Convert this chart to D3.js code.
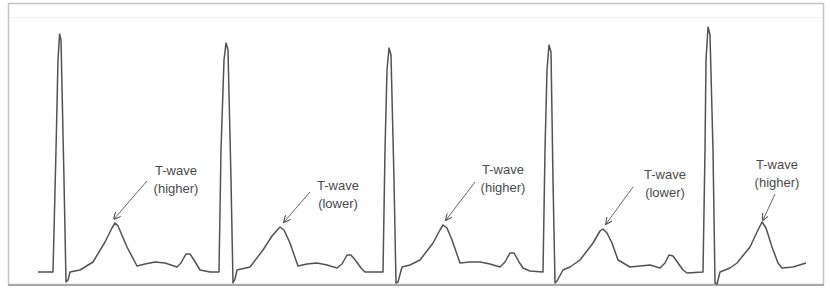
<html lang="en">
<head>
<style>
    body { margin: 0; background: #fff; }
    svg { display: block; }
    .note { font-family: Arial, "Liberation Sans", sans-serif; font-size: 13px; fill: #4a4a4a; }
</style>
</head>
<body>
</body>
<script type='text/javascript' src='https://d3js.org/d3.v7.min.js'></script>
<script>
    // ECG trace, time in ms, voltage in mV
    var ecgMs = [
        0, 75, 90, 100, 108, 115, 130, 140, 150, 160, 210, 275, 335, 370, 385, 400, 445, 495, 535, 585, 635, 695, 715, 740, 760, 780, 810, 860, 905,
        915, 930, 940, 950, 965, 975, 985, 995, 1060, 1125, 1170, 1210, 1230, 1260, 1300, 1345, 1395, 1445, 1495, 1520, 1545, 1565, 1590, 1615, 1635, 1725,
        1735, 1745, 1755, 1765, 1780, 1790, 1800, 1820, 1860, 1910, 1975, 2010, 2025, 2045, 2070, 2110, 2160, 2210, 2260, 2310, 2335, 2360, 2380, 2405, 2425, 2460, 2525,
        2535, 2545, 2555, 2565, 2575, 2585, 2595, 2625, 2660, 2710, 2775, 2810, 2825, 2845, 2870, 2900, 2960, 3010, 3060, 3110, 3135, 3155, 3175, 3200, 3225, 3245, 3325,
        3335, 3340, 3350, 3360, 3375, 3385, 3395, 3410, 3460, 3495, 3560, 3595, 3620, 3640, 3670, 3700, 3720, 3775, 3840
    ];
    var ecgMv = [
        0, 0, 0.61, 1.06, 1.19, 1.16, 0.46, -0.05, -0.04, 0, 0.01, 0.05, 0.15, 0.22, 0.245, 0.23, 0.125, 0.03, 0.04, 0.05, 0.045, 0.025, 0.045, 0.09, 0.09, 0.06, 0.01, 0, 0,
        0.61, 1.06, 1.145, 1.11, 0.46, -0.055, -0.035, 0.01, 0.025, 0.11, 0.18, 0.225, 0.21, 0.145, 0.03, 0.04, 0.045, 0.035, 0.02, 0.04, 0.085, 0.085, 0.055, 0.02, 0, 0,
        0.61, 1.01, 1.12, 1.085, 0.46, -0.055, -0.05, 0.025, 0.035, 0.06, 0.145, 0.21, 0.235, 0.22, 0.16, 0.045, 0.05, 0.05, 0.04, 0.025, 0.05, 0.095, 0.095, 0.05, 0.02, 0.005, 0,
        0.61, 1.01, 1.135, 1.10, 0.46, -0.055, -0.045, 0.01, 0.025, 0.06, 0.145, 0.205, 0.215, 0.195, 0.145, 0.06, 0.025, 0.03, 0.035, 0.02, 0.045, 0.085, 0.08, 0.045, 0.01, -0.005, 0,
        0.61, 1.06, 1.225, 1.185, 0.61, -0.055, -0.06, 0, 0.02, 0.045, 0.125, 0.2, 0.25, 0.22, 0.125, 0.045, 0.02, 0.025, 0.045
    ];

    // T-wave callouts
    var noteLabels = ["(higher)", "(lower)", "(higher)", "(lower)", "(higher)"];
    var noteTextMs = [690, 1500, 2325, 3135, 3695];
    var noteTextMv = [0.485, 0.41, 0.49, 0.465, 0.515];
    var noteTailMs = [545, 1360, 2185, 2975, 3685];
    var noteTailMv = [0.455, 0.40, 0.45, 0.425, 0.39];
    var noteTipMs = [380, 1230, 2040, 2840, 3625];
    var noteTipMv = [0.265, 0.25, 0.26, 0.24, 0.26];

    var width = 831, height = 288;

    var x = d3.scaleLinear().domain([0, 3840]).range([38, 806]);
    var y = d3.scaleLinear().domain([0, 1]).range([272, 72]);

    var svg = d3.select("body").append("svg")
        .attr("width", width)
        .attr("height", height);

    // frame
    svg.append("rect")
        .attr("x", 8.5).attr("y", 3.5)
        .attr("width", 815).attr("height", 281)
        .attr("fill", "none")
        .attr("stroke", "#c4c4c4")
        .attr("stroke-width", 1.5);
    svg.append("line")
        .attr("x1", 8).attr("x2", 824)
        .attr("y1", 285).attr("y2", 285)
        .attr("stroke", "#a8a8a8")
        .attr("stroke-width", 2);
    svg.append("line")
        .attr("x1", 9).attr("x2", 823)
        .attr("y1", 17.5).attr("y2", 17.5)
        .attr("stroke", "#f0f0f0");

    svg.append("defs").append("marker")
        .attr("id", "head")
        .attr("viewBox", "0 0 10 10")
        .attr("refX", 9).attr("refY", 5)
        .attr("markerWidth", 7).attr("markerHeight", 7)
        .attr("markerUnits", "userSpaceOnUse")
        .attr("orient", "auto")
        .append("path")
        .attr("d", "M0,0 L10,5 L0,10")
        .attr("fill", "none")
        .attr("stroke", "#555")
        .attr("stroke-width", 1.6);

    var pts = ecgMs.map(function (t, i) { return [t, ecgMv[i]]; });
    var line = d3.line()
        .x(function (d) { return x(d[0]); })
        .y(function (d) { return y(d[1]); });

    svg.append("path")
        .datum(pts)
        .attr("d", line)
        .attr("fill", "none")
        .attr("stroke", "#525252")
        .attr("stroke-width", 1.5)
        .attr("stroke-linejoin", "round");

    var notes = svg.selectAll("g.note")
        .data(noteLabels)
        .enter().append("g");

    notes.append("line")
        .attr("x1", function (d, i) { return x(noteTailMs[i]); })
        .attr("y1", function (d, i) { return y(noteTailMv[i]); })
        .attr("x2", function (d, i) { return x(noteTipMs[i]); })
        .attr("y2", function (d, i) { return y(noteTipMv[i]); })
        .attr("stroke", "#666")
        .attr("stroke-width", 1)
        .attr("marker-end", "url(#head)");

    notes.append("text")
        .attr("class", "note")
        .attr("text-anchor", "middle")
        .attr("x", function (d, i) { return x(noteTextMs[i]); })
        .attr("y", function (d, i) { return y(noteTextMv[i]); })
        .text("T-wave");

    notes.append("text")
        .attr("class", "note")
        .attr("text-anchor", "middle")
        .attr("x", function (d, i) { return x(noteTextMs[i]); })
        .attr("y", function (d, i) { return y(noteTextMv[i]) + 18; })
        .text(function (d) { return d; });
</script>
</html>
